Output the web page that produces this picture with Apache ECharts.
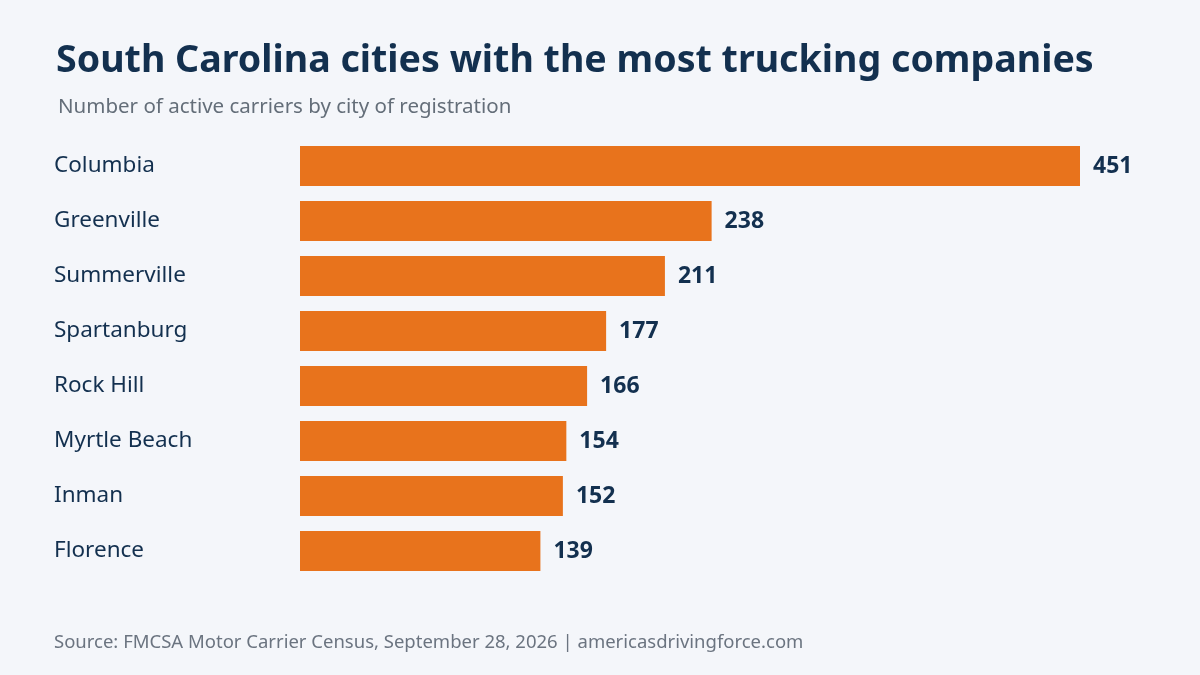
<!DOCTYPE html>
<html>
<head>
<meta charset="utf-8">
<script src="https://cdn.jsdelivr.net/npm/echarts@6/dist/echarts.min.js"></script>
<style>
html,body{margin:0;padding:0;background:#f4f6fa;}
#c{width:1200px;height:675px;}
</style>
</head>
<body>
<div id="c"></div>
<script>
const cities = ["Columbia","Greenville","Summerville","Spartanburg","Rock Hill","Myrtle Beach","Inman","Florence"];
const carriers = [451,238,211,177,166,154,152,139];
const titleText = "South Carolina cities with the most trucking companies";
const subtitleText = "Number of active carriers by city of registration";
const sourceText = "Source: FMCSA Motor Carrier Census, September 28, 2026 | americasdrivingforce.com";

const FONT = "'Noto Sans', 'Open Sans', sans-serif";
const NAVY = "#13304f";
const chart = echarts.init(document.getElementById('c'));
chart.setOption({
  backgroundColor: '#f4f6fa',
  animation: false,
  title: [
    {text: titleText, left: 51, top: 37, textStyle: {fontFamily: FONT, fontSize: 37.6, fontWeight: 'bold', color: NAVY}},
    {text: subtitleText, left: 53, top: 92, textStyle: {fontFamily: FONT, fontSize: 20.5, fontWeight: 'normal', color: '#646e79'}},
    {text: sourceText, left: 49, top: 628, textStyle: {fontFamily: FONT, fontSize: 18.5, fontWeight: 'normal', color: '#6b7480'}}
  ],
  grid: {left: 300, right: 120, top: 138.5, height: 440},
  xAxis: {type: 'value', min: 0, max: 451, show: false},
  yAxis: {
    type: 'category', data: cities, inverse: true,
    axisLine: {show: false}, axisTick: {show: false},
    axisLabel: {align: 'left', margin: 246, padding: [5, 0, 0, 0], fontFamily: FONT, fontSize: 22.5, color: NAVY}
  },
  series: [{
    type: 'bar', data: carriers, barWidth: 40,
    itemStyle: {color: '#e8731c'},
    label: {show: true, position: 'right', distance: 13, padding: [4, 0, 0, 0], fontFamily: FONT, fontSize: 23, fontWeight: 'bold', color: NAVY}
  }]
});
</script>
</body>
</html>
